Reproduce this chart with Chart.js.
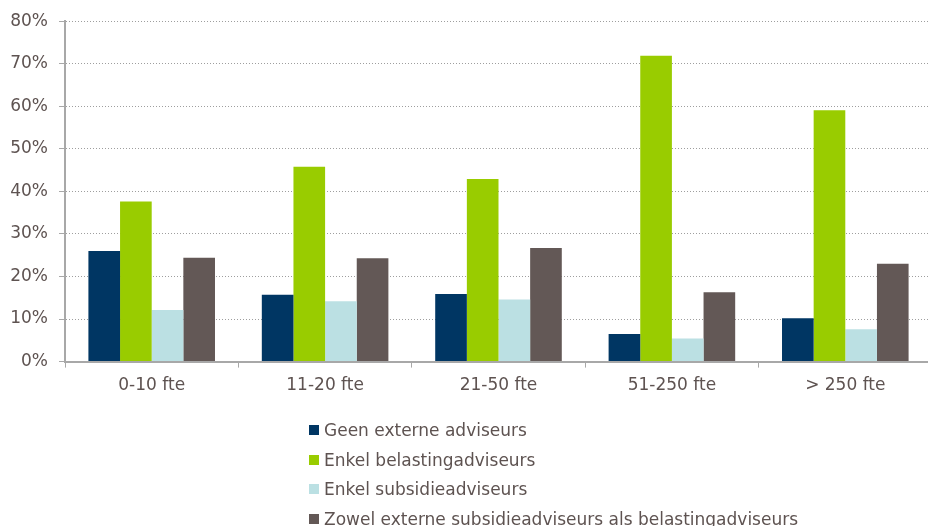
<!DOCTYPE html>
<html>
<head>
<meta charset="utf-8">
<script src="https://cdn.jsdelivr.net/npm/chart.js@4"></script>
<style>
    html, body { margin: 0; padding: 0; background: #fff; overflow: hidden; }
    #wrap { position: relative; width: 932px; height: 526px; }
    #legend {
        position: absolute; left: 309px; top: 416px;
        font-family: "DejaVu Sans", Verdana, sans-serif; font-size: 17px; color: #5e5351;
    }
    #legend div { height: 29.7px; line-height: 29.7px; white-space: nowrap; }
    #legend span {
        display: inline-block; width: 10px; height: 10px; margin-right: 5px;
        vertical-align: middle; position: relative; top: -1px;
    }
</style>
</head>
<body>
<div id="wrap">
    <canvas id="barChart" width="932" height="526"></canvas>
    <div id="legend"></div>
</div>
<script>
// data
const categories = ['0-10 fte', '11-20 fte', '21-50 fte', '51-250 fte', '> 250 fte'];
const seriesLabels = [
    'Geen externe adviseurs',
    'Enkel belastingadviseurs',
    'Enkel subsidieadviseurs',
    'Zowel externe subsidieadviseurs als belastingadviseurs'
];
const geenExtern = [26.0, 15.7, 15.9, 6.5, 10.2];
const enkelBelasting = [37.6, 45.8, 42.9, 71.9, 59.1];
const enkelSubsidie = [12.1, 14.2, 14.6, 5.4, 7.6];
const zowelBeide = [24.4, 24.3, 26.7, 16.3, 23.0];
const yTicks = [0, 10, 20, 30, 40, 50, 60, 70, 80];

const colors = ['#003663', '#99cc00', '#bbe0e3', '#635856'];
const textColor = '#5e5351';
const axisColor = '#a8a8a8';

Chart.defaults.font.family = '"DejaVu Sans", Verdana, sans-serif';
Chart.defaults.font.size = 17;
Chart.defaults.color = textColor;

const seriesData = [geenExtern, enkelBelasting, enkelSubsidie, zowelBeide];

new Chart(document.getElementById('barChart'), {
    type: 'bar',
    data: {
        labels: categories,
        datasets: seriesData.map((d, i) => ({
            label: seriesLabels[i],
            data: d,
            backgroundColor: colors[i],
            borderWidth: 0,
            categoryPercentage: 0.73,
            barPercentage: 1.0
        }))
    },
    options: {
        responsive: false,
        animation: false,
        layout: {
            padding: { top: 12, left: 0, right: 0, bottom: 122 }
        },
        plugins: {
            legend: { display: false },
            tooltip: { enabled: false }
        },
        scales: {
            x: {
                grid: {
                    display: true,
                    drawOnChartArea: false,
                    drawTicks: true,
                    tickLength: 6,
                    tickColor: axisColor,
                    offset: true
                },
                border: { display: true, color: axisColor, width: 2 },
                ticks: { padding: 8, color: textColor }
            },
            y: {
                min: 0,
                max: 80,
                afterBuildTicks: axis => {
                    axis.ticks = yTicks.map(v => ({ value: v }));
                },
                afterFit: axis => {
                    axis.width = 65;
                },
                grid: {
                    color: '#9e9e9e',
                    lineWidth: 1,
                    tickLength: 6,
                    tickColor: axisColor,
                    drawTicks: true
                },
                border: { display: true, color: axisColor, width: 2, dash: [1, 2] },
                ticks: {
                    padding: 11,
                    color: textColor,
                    callback: v => v + '%'
                }
            }
        }
    }
});

// legend
const legend = document.getElementById('legend');
seriesLabels.forEach((label, i) => {
    const row = document.createElement('div');
    const box = document.createElement('span');
    box.style.background = colors[i];
    row.appendChild(box);
    row.appendChild(document.createTextNode(label));
    legend.appendChild(row);
});
</script>
</body>
</html>
